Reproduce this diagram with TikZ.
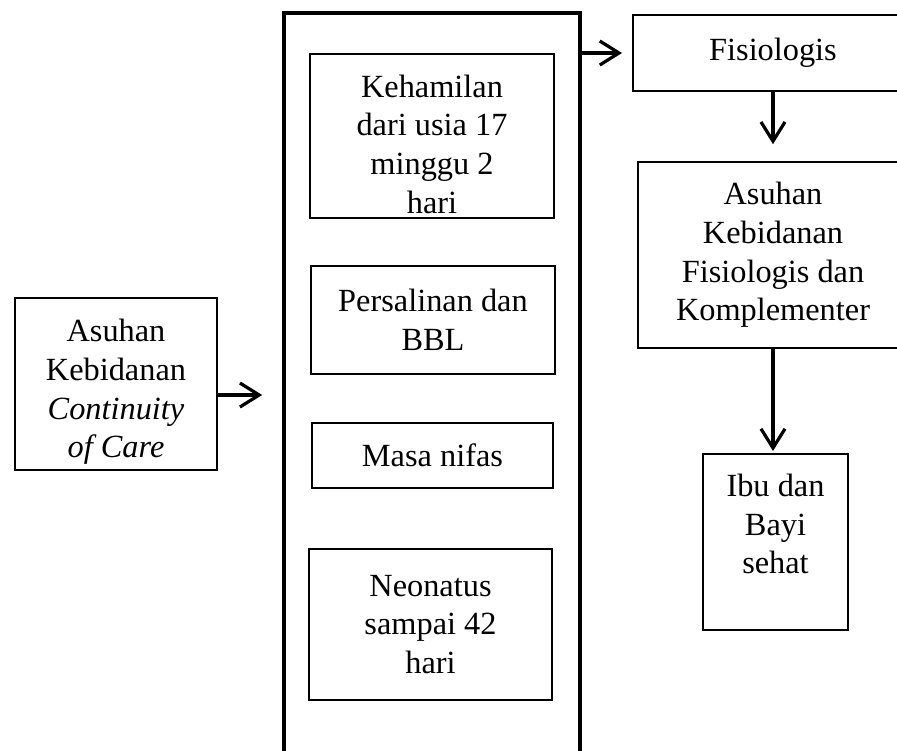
\documentclass[tikz,border=0pt]{standalone}
\usepackage{fontspec}
\setmainfont{Liberation Serif}
\usepackage{tikz}
\usetikzlibrary{arrows.meta}
\newcommand{\pix}{0.025cm}
\tikzset{
    box/.style={shape=rectangle,draw=black,line width=1.4pt,inner sep=0pt,align=center,
        font=\fontsize{23pt}{27.5pt}\selectfont},
    txt/.style={inner sep=0pt,align=center,font=\fontsize{23pt}{27.5pt}\selectfont},
    arr/.style={line width=2.3pt,-{Straight Barb[length=4.8mm,width=6mm]}}
}

\begin{document}
\begin{tikzpicture}[x=0.025cm,y=-0.025cm]
    \useasboundingbox (0,0) rectangle (897,751);

    \node[box,minimum width=202*\pix,minimum height=172*\pix,text height=110pt] (asuhan) at (116,384) {Asuhan\\Kebidanan\\\textit{Continuity}\\\textit{of Care}};
    \node[box,line width=2.8pt,minimum width=296*\pix,minimum height=790*\pix] (tahap) at (432,408) {};
    \node[box,minimum width=244*\pix,minimum height=164*\pix,text height=110pt] (hamil) at (432,136) {Kehamilan\\dari usia 17\\minggu 2\\hari};
    \node[box,minimum width=244*\pix,minimum height=108*\pix] (salin) at (433,320) {Persalinan dan\\BBL};
    \node[box,minimum width=241*\pix,minimum height=65*\pix] (nifas) at (432.5,455.5) {Masa nifas};
    \node[box,minimum width=243*\pix,minimum height=151*\pix] (neo) at (430.5,624.5) {Neonatus\\sampai 42\\hari};
    \node[box,minimum width=280*\pix,minimum height=76*\pix] (fisio) at (773,53) {Fisiologis};
    \node[box,minimum width=270*\pix,minimum height=186*\pix] (komp) at (773,255) {Asuhan\\Kebidanan\\Fisiologis dan\\Komplementer};
    \node[box,minimum width=145*\pix,minimum height=176*\pix] (sehat) at (775.5,542) {};
    \node[txt] (sehat-t) at (775.5,524) {Ibu dan\\Bayi\\sehat};
    \coordinate (masuk) at (283,395);

    \draw [arr,shorten >=0.52cm] (asuhan.east |- masuk) -- (masuk);
    \draw [arr,shorten >=0.25cm] (tahap.east |- fisio.west) -- (fisio.west);
    \draw [arr,shorten >=0.42cm] (fisio.south) -- (komp.north);
    \draw [arr,shorten >=0.05cm] (komp.south) -- (komp.south |- sehat.north);
\end{tikzpicture}
\end{document}
